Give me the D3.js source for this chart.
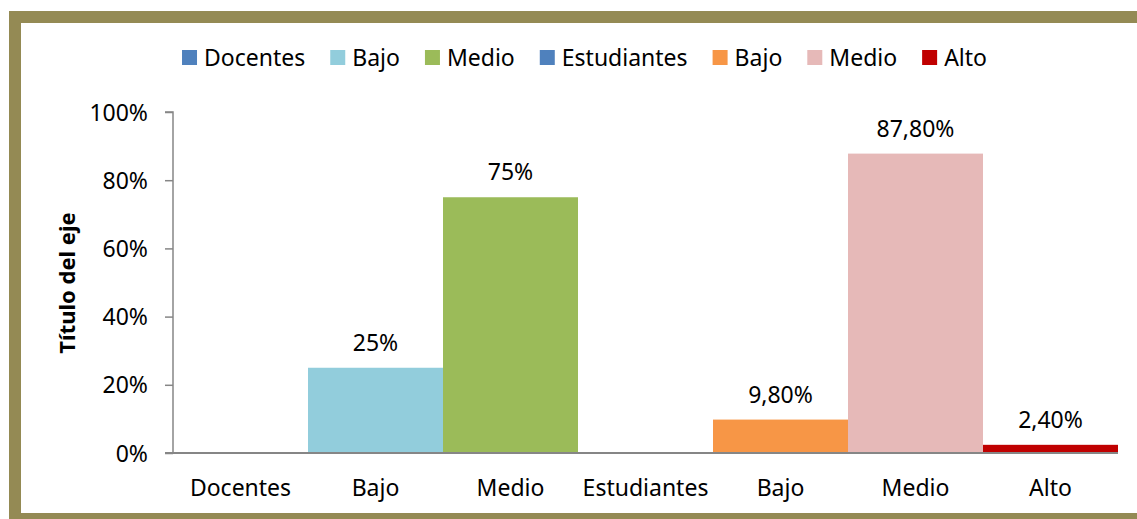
<!DOCTYPE html>
<html>
<head>
<meta charset="utf-8">
<script src="https://cdn.jsdelivr.net/npm/d3@7"></script>
<style>
  html, body { margin: 0; padding: 0; background: #fff; }
  svg { display: block; }
  text { font-family: "Noto Sans", sans-serif; fill: #000; }
</style>
</head>
<body>
<svg id="chart" width="1137" height="519"></svg>
<script>
// ---- data ----
const categories = ["Docentes", "Bajo", "Medio", "Estudiantes", "Bajo", "Medio", "Alto"];
const values = [null, 25, 75, null, 9.8, 87.8, 2.4];
const valueLabels = ["", "25%", "75%", "", "9,80%", "87,80%", "2,40%"];
const seriesColors = ["#4F81BD", "#92CDDC", "#9BBB59", "#4F81BD", "#F79646", "#E6B9B8", "#C00000"];
const yTicks = [0, 20, 40, 60, 80, 100];
const yTickLabels = ["0%", "20%", "40%", "60%", "80%", "100%"];
const axisTitle = "Título del eje";

// ---- layout ----
const svg = d3.select("#chart");
const W = 1137, H = 519;
const plot = { left: 173, right: 1118, top: 112, bottom: 453 };
const fontSize = 23;

// frame
svg.append("rect")
  .attr("x", 15).attr("y", 17)
  .attr("width", 1145).attr("height", 502)
  .attr("fill", "none")
  .attr("stroke", "#948A54")
  .attr("stroke-width", 12);

const x = d3.scaleBand()
  .domain(d3.range(categories.length))
  .range([plot.left, plot.right])
  .paddingInner(0).paddingOuter(0);

const y = d3.scaleLinear().domain([0, 100]).range([plot.bottom, plot.top]);

// bars
svg.append("g").selectAll("rect")
  .data(values.map((v, i) => ({ v, i })).filter(d => d.v !== null))
  .join("rect")
  .attr("x", d => x(d.i))
  .attr("width", x.bandwidth())
  .attr("y", d => y(d.v))
  .attr("height", d => y(0) - y(d.v))
  .attr("fill", d => seriesColors[d.i]);

// y axis
const yAxis = d3.axisLeft(y)
  .tickValues(yTicks)
  .tickFormat((d, i) => yTickLabels[i])
  .tickSize(8)
  .tickPadding(17);
const gy = svg.append("g").attr("transform", `translate(${plot.left},0)`).call(yAxis);
gy.select(".domain").attr("stroke", "#868686").attr("stroke-width", 1.5).attr("d", `M-8,${plot.top}H0V${plot.bottom}`);
gy.selectAll(".tick line").attr("stroke", "#868686").attr("stroke-width", 1.5);
gy.selectAll(".tick text")
  .attr("font-family", "Noto Sans")
  .attr("font-size", fontSize)
  .attr("fill", "#000")
  .attr("dy", "0.35em");

// x axis
const xAxis = d3.axisBottom(x)
  .tickFormat(i => categories[i])
  .tickSize(0)
  .tickPadding(27);
const gx = svg.append("g").attr("transform", `translate(0,${plot.bottom})`).call(xAxis);
gx.select(".domain").attr("stroke", "#868686").attr("stroke-width", 2).attr("d", `M${plot.left - 8},0H${plot.right}`);
gx.selectAll(".tick text")
  .attr("font-family", "Noto Sans")
  .attr("font-size", fontSize)
  .attr("fill", "#000");

// data labels
svg.append("g").selectAll("text")
  .data(values.map((v, i) => ({ v, i })).filter(d => d.v !== null))
  .join("text")
  .attr("x", d => x(d.i) + x.bandwidth() / 2)
  .attr("y", d => y(d.v) - 17)
  .attr("text-anchor", "middle")
  .attr("font-size", fontSize)
  .text(d => valueLabels[d.i]);

// axis title
svg.append("text")
  .attr("transform", `translate(75,283) rotate(-90)`)
  .attr("text-anchor", "middle")
  .attr("font-size", 22)
  .attr("font-weight", "bold")
  .text(axisTitle);

// legend
const legend = svg.append("g");
const sq = 15, gapSqText = 7, gapItems = 25;
let cx = 0;
const items = categories.map((c, i) => {
  const g = legend.append("g");
  g.append("rect").attr("x", 0).attr("y", 50).attr("width", sq).attr("height", sq).attr("fill", seriesColors[i]);
  const t = g.append("text").attr("x", sq + gapSqText).attr("y", 66).attr("font-size", fontSize).text(c);
  const w = sq + gapSqText + t.node().getComputedTextLength();
  g.attr("transform", `translate(${cx},0)`);
  cx += w + gapItems;
  return g;
});
const totalW = cx - gapItems;
legend.attr("transform", `translate(${584.5 - totalW / 2},0)`);
</script>
</body>
</html>
